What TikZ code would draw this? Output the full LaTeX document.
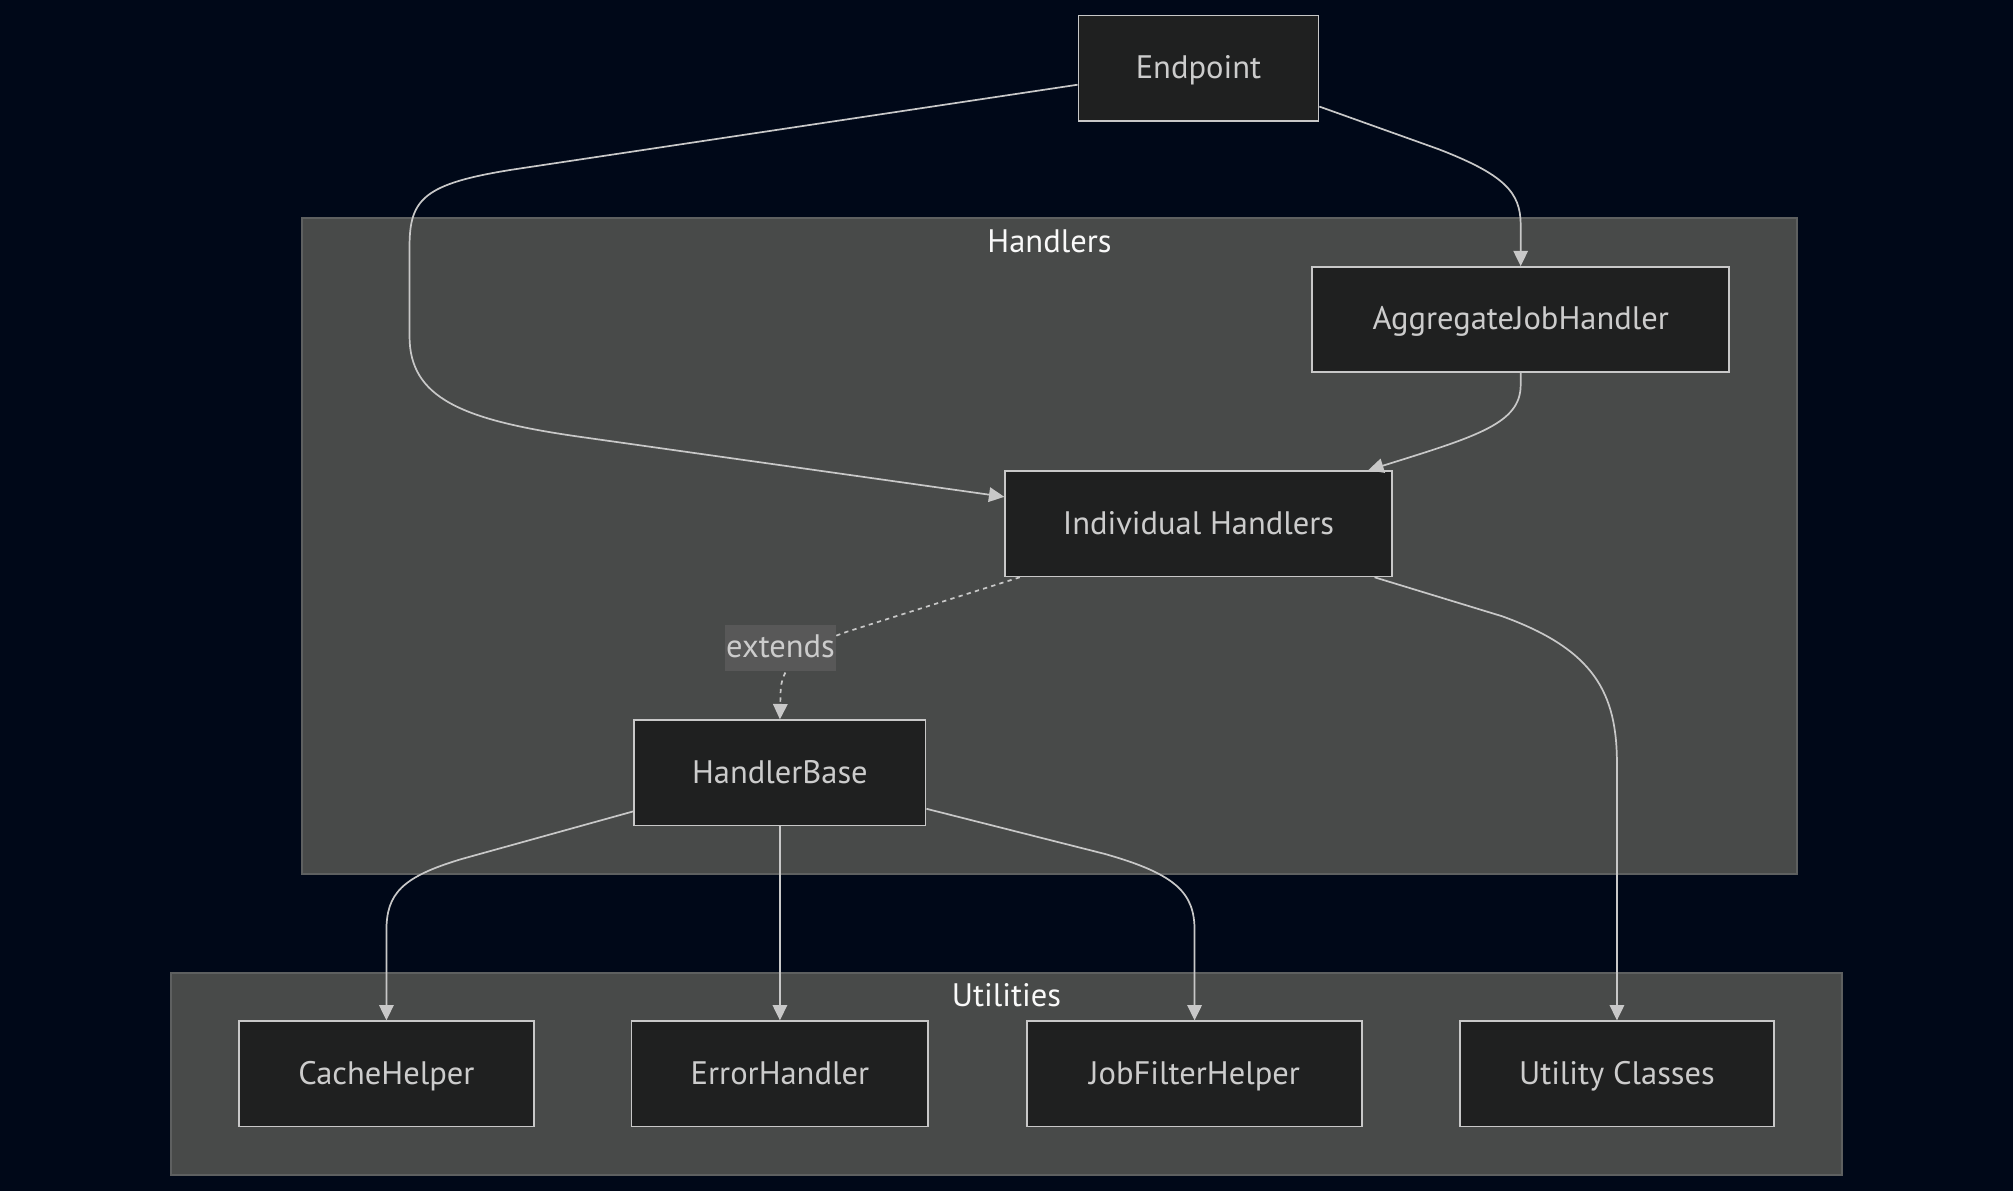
\documentclass[tikz,border=0pt]{standalone}
\usepackage{fontspec}
\setmainfont{PT Sans}
\usetikzlibrary{arrows.meta,calc}
\definecolor{bgc}{HTML}{000818}
\definecolor{clfill}{HTML}{484A49}
\definecolor{cldraw}{HTML}{5E6060}
\definecolor{ndfill}{HTML}{1F2020}
\definecolor{nddraw}{HTML}{C8C8C8}
\definecolor{txt}{HTML}{CCCCCC}
\definecolor{lblbg}{HTML}{585858}
\tikzset{
  box/.style={draw=nddraw, fill=ndfill, line width=1pt, text=txt, minimum height=61.5pt, inner sep=0pt, text height=14.5pt, text depth=2.5pt, font=\fontsize{19}{21}\selectfont},
  cluster/.style={draw=cldraw, fill=clfill, line width=1pt, inner sep=0pt},
  ctitle/.style={text=white!95!gray, font=\fontsize{19}{21}\selectfont, inner sep=0pt},
  conn/.style={draw=nddraw, line width=1pt},
  arr/.style={conn, -{Triangle[length=9pt,width=8.5pt]}},
  dotted conn/.style={arr, dash pattern=on 2.5pt off 2.5pt},
  lbl/.style={fill=lblbg, text=txt, inner xsep=0.5pt, minimum height=27pt, text height=14pt, text depth=3pt, font=\fontsize{19}{21}\selectfont}
}
\begin{document}
\begin{tikzpicture}[x=0.75pt,y=-0.75pt]
\fill[bgc] (0,0) rectangle (1568,928);
\useasboundingbox (0,0) rectangle (1568,928);
% clusters
\node[cluster, minimum width=873.75pt, minimum height=383.25pt] (hcl) at (817.5,425.5) {};
\node[ctitle] (htitle) at (817.5,188) {Handlers};
\node[cluster, minimum width=976.5pt, minimum height=117.75pt] (ucl) at (784,836.5) {};
\node[ctitle] (utitle) at (784,775) {Utilities};
% nodes
\node[box, minimum width=140.25pt] (ep) at (933.5,53) {Endpoint};
\node[box, minimum width=243.75pt] (ajh) at (1184.5,249) {AggregateJobHandler};
\node[box, minimum width=225.75pt] (ih) at (933.5,408) {Individual Handlers};
\node[box, minimum width=170.25pt] (hb) at (607.5,602) {HandlerBase};
\node[box, minimum width=172.5pt] (ch) at (301,836.5) {CacheHelper};
\node[box, minimum width=173.25pt] (eh) at (607.5,836.5) {ErrorHandler};
\node[box, minimum width=195.75pt] (jf) at (930.5,836.5) {JobFilterHelper};
\node[box, minimum width=183.75pt] (uc) at (1259.5,836.5) {Utility Classes};
% edges
\draw[arr] ($(ep.west)+(0,13)$) -- (400,132) .. controls (330,143) and (319,155) .. (319,192) -- (319,262) .. controls (319,310) and (360,327) .. (450,340) -- ($(ih.west)+(0,-21)$);
\draw[arr] ($(ep.east)+(0,30)$) -- (1120,116) .. controls (1172,136) and (1184.5,150) .. (1184.5,175) -- (ajh.north);
\draw[arr] (ajh.south) -- (1184.5,300) .. controls (1184.5,330) and (1150,340) .. ($(ih.north east)+(-19,0)$);
\draw[dotted conn] ($(ih.south west)+(12,0)$) -- (660,492) .. controls (622,505) and (608,520) .. (608,540) -- (hb.north);
\node[lbl] (ext) at (608,505) {extends};
\draw[arr] ($(ih.south east)+(-14,0)$) -- (1170,480) .. controls (1242,506) and (1259.5,540) .. (1259.5,595) -- (uc.north);
\draw[arr] ($(hb.west)+(0,30)$) -- (360,669) .. controls (313,683) and (301,696) .. (301,725) -- (ch.north);
\draw[arr] (hb.south) -- (eh.north);
\draw[arr] ($(hb.east)+(0,28)$) -- (860,665) .. controls (917,681) and (930.5,696) .. (930.5,725) -- (jf.north);
\end{tikzpicture}
\end{document}
